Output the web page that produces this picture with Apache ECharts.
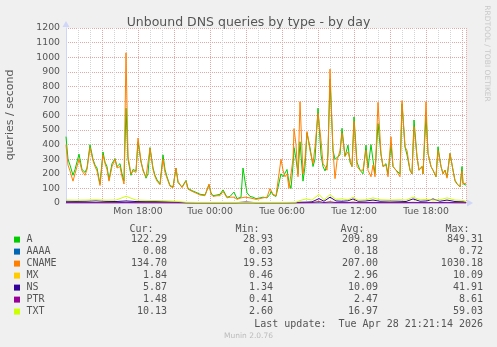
<!DOCTYPE html>
<html>
<head>
<meta charset="utf-8">
<script src="https://cdn.jsdelivr.net/npm/echarts@6/dist/echarts.min.js"></script>
<style>
html,body{margin:0;padding:0;background:#f0f0f0;}
#chart{width:497px;height:347px;}
</style>
</head>
<body>
<div id="chart"></div>
<script>
// ---- Data ----
const chartTitle = 'Unbound DNS queries by type - by day';
const yAxisTitle = 'queries / second';
const startHour = 12; // Mon 12:00, minutes below are counted from here
const spanMinutes = 2000;
const xTickHours = [18, 24, 30, 36, 42];
const xTickLabels = ['Mon 18:00', 'Tue 00:00', 'Tue 06:00', 'Tue 12:00', 'Tue 18:00'];

// sample times (minutes since Mon 12:00) for A / CNAME
const mainMinutes = [0,10,20,35,45,55,65,80,95,105,120,135,145,155,170,185,195,205,215,230,245,255,270,280,290,300,310,325,335,350,360,375,385,400,410,420,435,445,455,470,485,495,505,520,535,550,560,580,600,610,630,655,670,695,715,725,735,755,770,785,805,820,840,855,875,885,895,905,920,935,950,970,985,1005,1020,1025,1035,1050,1060,1075,1085,1095,1105,1115,1125,1135,1140,1150,1160,1170,1185,1195,1205,1220,1235,1245,1260,1275,1285,1295,1305,1310,1320,1335,1345,1355,1370,1380,1395,1410,1420,1430,1440,1455,1470,1485,1500,1510,1525,1535,1545,1560,1575,1585,1600,1610,1625,1635,1650,1660,1670,1680,1695,1705,1720,1730,1740,1755,1765,1780,1785,1800,1810,1825,1835,1850,1860,1875,1885,1895,1905,1920,1935,1945,1955,1970,1980,1985,2000];

const aValues = [455,300,260,190,230,220,335,230,210,240,400,300,260,240,130,350,280,250,160,270,305,250,270,200,150,650,300,190,230,220,420,280,230,170,200,380,240,190,160,130,330,230,180,120,110,240,140,110,155,100,85,70,60,55,125,70,50,55,60,90,40,45,75,30,40,240,150,70,45,40,30,35,40,35,60,80,55,45,45,200,180,175,230,140,100,260,380,300,200,420,150,250,480,380,250,300,650,330,250,220,260,350,849,360,300,290,330,512,320,397,280,250,590,280,225,200,397,240,400,294,202,545,330,250,270,200,400,250,225,236,200,680,385,330,225,200,569,317,225,250,200,600,340,250,225,180,385,250,202,225,180,340,225,156,133,110,250,133,122];

const cnameValues = [400,260,220,150,200,210,300,220,190,230,380,290,250,220,120,330,270,230,150,250,300,240,250,180,130,1030,320,200,220,210,445,290,220,180,190,375,230,180,150,125,300,210,170,115,105,240,150,105,150,95,80,65,55,50,130,60,45,50,50,80,35,40,40,25,35,45,40,35,35,30,25,30,35,40,100,110,60,50,45,300,225,180,200,100,90,300,510,400,180,695,200,300,490,360,270,385,615,430,270,250,225,330,918,360,167,290,360,480,320,350,300,250,560,250,225,225,362,225,180,260,180,690,340,250,260,180,454,250,225,236,180,702,385,360,225,200,523,317,225,250,200,695,340,250,225,180,360,250,200,225,170,340,225,150,130,110,220,133,135];

// sample times (minutes since Mon 12:00) for the small series
const smallMinutes = [0,50,100,150,200,250,300,350,400,450,500,550,600,650,700,750,800,850,900,950,1000,1050,1100,1150,1170,1200,1230,1265,1290,1320,1350,1380,1410,1435,1460,1500,1535,1570,1620,1670,1700,1735,1770,1805,1835,1870,1905,1945,1985,2000];
const aaaaValues = [0.2,0.2,0.2,0.2,0.2,0.2,0.3,0.2,0.2,0.2,0.15,0.1,0.05,0.03,0.03,0.03,0.05,0.05,0.05,0.03,0.03,0.05,0.05,0.05,0.1,0.2,0.2,0.7,0.2,0.5,0.2,0.2,0.2,0.3,0.2,0.2,0.2,0.2,0.2,0.2,0.2,0.3,0.2,0.2,0.3,0.2,0.2,0.2,0.1,0.08];
const mxValues = [3,3,4,3,3,3,5,3,3,3,2,2,1,0.5,0.5,0.5,0.5,0.5,1,0.5,0.5,0.5,0.5,1,2,3,3,10,3,8,3,4,3,6,3,3,4,3,3,3,3,5,3,3,4,3,4,3,2,1.84];
const nsValues = [12,11,12,15,11,10,14,10,9,9,8,6,2,1.5,1.5,1.5,2,2,7,2,2,2,2,3,5,6,8,30,12,40,14,12,15,28,12,14,20,12,14,12,10,28,12,14,28,12,20,10,8,5.87];
const ptrValues = [3,3,3,3,2.5,2.5,4,2.5,2.5,2.5,2,2,0.8,0.5,0.5,0.5,0.5,0.5,1,0.5,0.5,0.5,0.5,0.8,1.5,2.5,3,8.6,3,7,3,3,3,5,3,3,4,3,3,3,3,4,3,3,4,3,4,2.5,2,1.48];
const txtValues = [20,19,20,22,19,20,46,20,18,17,15,12,5,4,4,4,4,4,5,4,4,4,4,5,17,28,20,59,22,57,25,28,22,40,20,22,35,22,20,22,20,40,22,25,20,22,35,20,18,10.13];

// legend table
const seriesNames = ['A', 'AAAA', 'CNAME', 'MX', 'NS', 'PTR', 'TXT'];
const curValues = ['122.29', '0.08', '134.70', '1.84', '5.87', '1.48', '10.13'];
const minValues = ['28.93', '0.03', '19.53', '0.46', '1.34', '0.41', '2.60'];
const avgValues = ['209.89', '0.18', '207.00', '2.96', '10.09', '2.47', '16.97'];
const maxValues = ['849.31', '0.72', '1030.18', '10.09', '41.91', '8.61', '59.03'];
const lastUpdate = 'Last update:  Tue Apr 28 21:21:14 2026';
const footer = 'Munin 2.0.76';
const watermark = 'RRDTOOL / TOBI OETIKER';

// ---- Styles ----
const colors = {A:'#00cc00', AAAA:'#0066b3', CNAME:'#ff8000', MX:'#ffcc00', NS:'#330099', PTR:'#990099', TXT:'#ccff00'};
const seriesSource = {
  A: [mainMinutes, aValues], AAAA: [smallMinutes, aaaaValues], CNAME: [mainMinutes, cnameValues],
  MX: [smallMinutes, mxValues], NS: [smallMinutes, nsValues], PTR: [smallMinutes, ptrValues], TXT: [smallMinutes, txtValues]
};
const textColor = '#555';
const sans = '"DejaVu Sans", sans-serif';
const mono = '"DejaVu Sans Mono", monospace';

function pairs(mins, vals) { return mins.map((m, i) => [startHour + m / 60, vals[i]]); }

const series = seriesNames.map(name => ({
  name, type: 'line', showSymbol: false, symbol: 'none',
  data: pairs(seriesSource[name][0], seriesSource[name][1]),
  lineStyle: {color: colors[name], width: 1},
  itemStyle: {color: colors[name]},
  emphasis: {disabled: true},
  silent: true
}));

// legend graphics
const graphics = [];
function txt(text, x, y, align, font, fill, rotation) {
  const g = {type:'text', x, y, silent: true,
    style:{text, font, fill: fill || textColor, align, textAlign: align, verticalAlign:'middle', textVerticalAlign:'middle'}};
  if (rotation) g.rotation = rotation;
  graphics.push(g);
}
const colRight = [167, 273, 378, 483];
const headers = ['Cur:', 'Min:', 'Avg:', 'Max:'];
const legendFont = '10px ' + mono;
headers.forEach((h, i) => txt(h, colRight[i] - 13.5, 229, 'right', legendFont));
seriesNames.forEach((name, r) => {
  const y = 239.6 + r * 12;
  graphics.push({type:'rect', silent:true, shape:{x:14, y:y - 3, width:6, height:6}, style:{fill: colors[name]}});
  txt(name, 26.5, y, 'left', legendFont);
  [curValues, minValues, avgValues, maxValues].forEach((arr, c) => txt(arr[r], colRight[c], y, 'right', legendFont));
});
txt(lastUpdate, 483, 324, 'right', legendFont);
txt(footer, 248.5, 336.5, 'center', '7.5px ' + sans, '#bbbbbb');
txt(watermark, 487, 53.5, 'center', '7.5px ' + sans, '#c8c8c8', -Math.PI / 2);
txt(yAxisTitle, 10.5, 115, 'center', '11px ' + sans, textColor, Math.PI / 2);

const chart = echarts.init(document.getElementById('chart'), null, {renderer: 'canvas'});
chart.setOption({
  animation: false,
  backgroundColor: '#f0f0f0',
  title: {text: chartTitle, left: 'center', top: 11,
    textStyle: {fontFamily: sans, fontSize: 12.5, fontWeight: 'normal', color: textColor}},
  grid: {left: 66, top: 28, width: 400, height: 175, show: true, backgroundColor: '#ffffff', borderWidth: 0},
  xAxis: {
    type: 'value', min: startHour, max: startHour + spanMinutes / 60, interval: 3,
    axisLine: {show: true, onZero: false, lineStyle: {color: '#cfd6f8', width: 1},
      symbol: ['none', 'triangle'], symbolSize: [7, 6], symbolOffset: [0, 4]},
    axisTick: {show: false},
    axisLabel: {color: textColor, fontFamily: sans, fontSize: 9.3, margin: 4,
      showMinLabel: false, showMaxLabel: false,
      formatter: v => { const i = xTickHours.findIndex(h => Math.abs(h - v) < 1e-6); return i >= 0 ? xTickLabels[i] : ''; }},
    splitLine: {show: true, lineStyle: {color: '#e6a6a6', type: [1, 1], width: 1}},
    minorTick: {show: false, splitNumber: 3},
    minorSplitLine: {show: true, lineStyle: {color: '#d4d4d4', type: [1, 1], width: 1}}
  },
  yAxis: {
    type: 'value', min: 0, max: 1200, interval: 100,
    axisLine: {show: true, lineStyle: {color: '#cfd6f8', width: 1},
      symbol: ['none', 'triangle'], symbolSize: [7, 6], symbolOffset: [0, 4]},
    axisTick: {show: false},
    axisLabel: {color: textColor, fontFamily: sans, fontSize: 9.3, margin: 6, formatter: v => String(v)},
    splitLine: {show: true, lineStyle: {color: '#e6a6a6', type: [1, 1], width: 1}}
  },
  series,
  graphic: {elements: graphics}
});
</script>
</body>
</html>
